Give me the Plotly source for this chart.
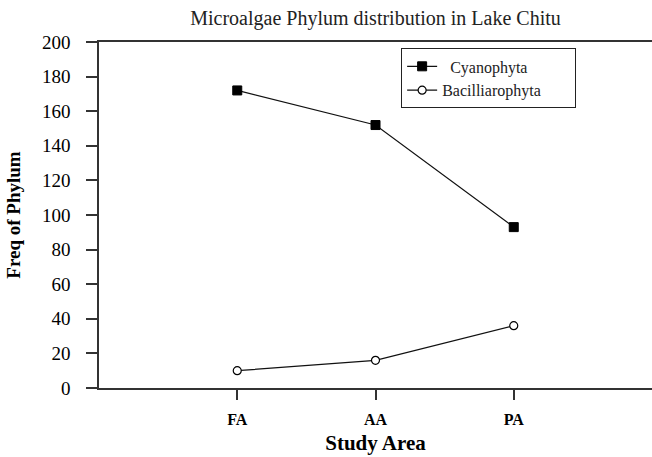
import plotly.graph_objects as go

areas = ["FA", "AA", "PA"]
cyanophyta = [172, 152, 93]
bacilliarophyta = [10, 16, 36]
y_ticks = [0, 20, 40, 60, 80, 100, 120, 140, 160, 180, 200]

serif = "Liberation Serif"
pad = "\u00a0" * 7

fig = go.Figure()
fig.add_trace(go.Scatter(
    x=areas, y=cyanophyta, name="\u00a0\u00a0Cyanophyta" + pad, mode="lines+markers",
    line=dict(color="#111111", width=1.2),
    marker=dict(symbol="square", size=9, color="black", line=dict(color="black", width=1)),
))
fig.add_trace(go.Scatter(
    x=areas, y=bacilliarophyta, name="Bacilliarophyta" + pad, mode="lines+markers",
    line=dict(color="#111111", width=1.2),
    marker=dict(symbol="circle", size=8, color="white", line=dict(color="black", width=1.2)),
))

fig.update_layout(
    width=652, height=457,
    margin=dict(l=99, r=0, t=42, b=69),
    paper_bgcolor="white", plot_bgcolor="white",
    font=dict(family=serif, color="black"),
    title=dict(text="Microalgae Phylum distribution in Lake Chitu",
               x=(99 + 652) / 2 / 652, xanchor="center", y=1 - 18 / 457, yanchor="middle",
               font=dict(size=20, family=serif, color="#222222")),
    legend=dict(x=0.546, y=0.982, xanchor="left", yanchor="top",
                bordercolor="#222222", borderwidth=1.2, bgcolor="white",
                font=dict(size=16, family=serif, color="#222222"), tracegroupgap=0,
                itemwidth=30),
    showlegend=True,
)
fig.update_xaxes(
    type="category", categoryorder="array", categoryarray=areas,
    range=[-1, 3], showline=True, linecolor="#333333", linewidth=1.5,
    mirror=True, ticks="outside", ticklen=10, tickcolor="#333333", tickwidth=1.5,
    showgrid=False, zeroline=False,
    tickfont=dict(size=16, family=serif, weight="bold"),
    ticklabelstandoff=6,
    title=dict(text="<b>Study Area</b>", font=dict(size=21, family=serif), standoff=8),
)
fig.update_yaxes(
    range=[0, 200], tickvals=y_ticks, showline=True, linecolor="#333333", linewidth=1.5,
    ticks="outside", ticklen=11, tickcolor="#333333", tickwidth=1.5,
    showgrid=False, zeroline=False,
    tickfont=dict(size=19, family=serif),
    ticklabelstandoff=12,
    title=dict(text="<b>Freq of Phylum</b>", font=dict(size=19, family=serif), standoff=16),
)

fig.write_html("out.html", config={"displayModeBar": False},
               post_script="document.body.style.margin='0';")
